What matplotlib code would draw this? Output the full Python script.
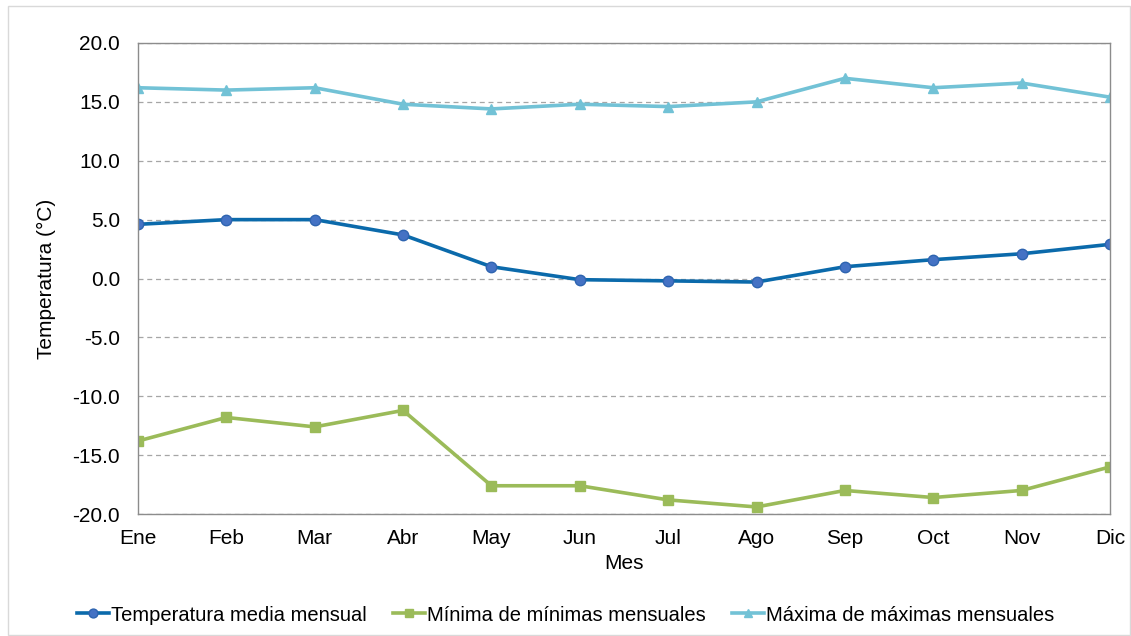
import numpy as np
import matplotlib.pyplot as plt
from matplotlib.patches import Rectangle

plt.rcParams['font.family'] = ['Liberation Sans', 'DejaVu Sans']

# Datos
meses = ['Ene', 'Feb', 'Mar', 'Abr', 'May', 'Jun', 'Jul', 'Ago', 'Sep', 'Oct', 'Nov', 'Dic']
t_media = [4.6, 5.0, 5.0, 3.7, 1.0, -0.1, -0.2, -0.3, 1.0, 1.6, 2.1, 2.9]
t_min = [-13.8, -11.8, -12.6, -11.2, -17.6, -17.6, -18.8, -19.4, -18.0, -18.6, -18.0, -16.0]
t_max = [16.2, 16.0, 16.2, 14.8, 14.4, 14.8, 14.6, 15.0, 17.0, 16.2, 16.6, 15.4]

x = np.arange(len(meses))

fig = plt.figure(figsize=(11.31, 6.36), dpi=100)
fig.patches.append(Rectangle((0.007, 0.002), 0.992, 0.988, transform=fig.transFigure,
                             fill=False, edgecolor='#d9d9d9', linewidth=1))
ax = fig.add_axes([0.122, 0.1918, 0.8594, 0.7406])

ax.plot(x, t_media, color='#0B6AAB', linewidth=2.6, marker='o', markersize=7.5,
        markerfacecolor='#4472C4', markeredgecolor='#2E64B0', label='Temperatura media mensual')
ax.plot(x, t_min, color='#9BBB59', linewidth=2.6, marker='s', markersize=7.5,
        label='Mínima de mínimas mensuales')
ax.plot(x, t_max, color='#72C2D6', linewidth=2.6, marker='^', markersize=7.5,
        label='Máxima de máximas mensuales')

ax.set_xlim(0, 11)
ax.set_ylim(-20, 20)
ax.set_yticks(np.arange(-20, 21, 5))
ax.set_yticklabels(['%.1f' % v for v in np.arange(-20, 21, 5)])
ax.set_xticks(x)
ax.set_xticklabels(meses)
ax.tick_params(axis='y', length=0, labelsize=15, pad=13)
ax.tick_params(axis='x', length=0, labelsize=15, pad=11)
ax.yaxis.grid(True, linestyle=(0, (4, 3)), color='#a6a6a6', linewidth=0.9)
ax.set_axisbelow(True)
for s in ax.spines.values():
    s.set_color('#8c8c8c')
    s.set_linewidth(1)

ax.set_xlabel('Mes', fontsize=15, labelpad=4)
ax.set_ylabel('Temperatura (°C)', fontsize=15, labelpad=12)

fig.legend(loc='center', bbox_to_anchor=(0.5, 0.033), ncol=3, frameon=False,
           fontsize=14.5, handlelength=1.6, handletextpad=0.1, columnspacing=1.3,
           markerscale=0.85)

fig.savefig('out.png', dpi=100)
